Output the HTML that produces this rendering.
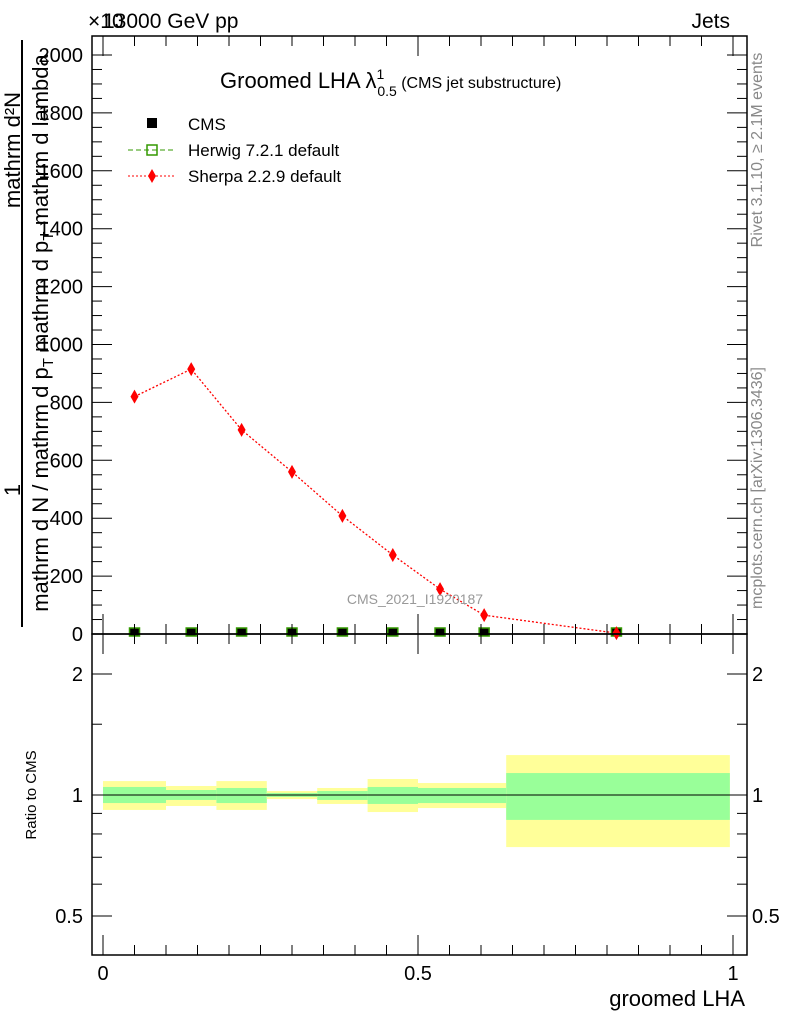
<!DOCTYPE html>
<html><head><meta charset="utf-8"><style>
body{margin:0;background:#fff;}
svg{display:block;font-family:"Liberation Sans",sans-serif;}
</style></head><body>
<svg id="c" width="786" height="1024" viewBox="0 0 786 1024" xmlns="http://www.w3.org/2000/svg">
<g id="bands"></g>
<g id="main"></g>
<g id="axes" stroke="#000" fill="none"></g>
<text x="103" y="28" font-size="21">13000 GeV pp</text>
<text x="88" y="28" font-size="21">×10</text>
<text x="730" y="28" font-size="21" text-anchor="end">Jets</text>
<text x="220" y="88" font-size="22">Groomed LHA λ<tspan font-size="14" dy="-9">1</tspan><tspan font-size="14" dx="-7" dy="17">0.5</tspan><tspan font-size="16" dy="-8"> (CMS jet substructure)</tspan></text>
<g font-size="17">
<rect x="147" y="118" width="10" height="10" fill="#000"/>
<text x="188" y="130">CMS</text>
<line x1="128" y1="150" x2="175" y2="150" stroke="#339900" stroke-dasharray="5,3"/>
<rect x="147" y="145" width="10" height="10" fill="none" stroke="#339900" stroke-width="1.5"/>
<text x="188" y="156">Herwig 7.2.1 default</text>
<line x1="128" y1="176" x2="175" y2="176" stroke="red" stroke-dasharray="2,2"/>
<path d="M152 169 L156 176 L152 183 L148 176Z" fill="red"/>
<text x="188" y="182">Sherpa 2.2.9 default</text>
</g>
<text x="415" y="604" font-size="14" fill="#999" text-anchor="middle">CMS_2021_I1920187</text>
<text transform="translate(762,150) rotate(-90)" font-size="16" fill="#888" text-anchor="middle">Rivet 3.1.10, ≥ 2.1M events</text>
<text transform="translate(762,488) rotate(-90)" font-size="16" fill="#888" text-anchor="middle">mcplots.cern.ch [arXiv:1306.3436]</text>
<g font-size="22">
<line x1="22" y1="40" x2="22" y2="627" stroke="#000" stroke-width="2"/>
<text transform="translate(20,490) rotate(-90)" text-anchor="middle">1</text>
<text transform="translate(20,150) rotate(-90)" text-anchor="middle">mathrm d²N</text>
<text transform="translate(48,333) rotate(-90)" text-anchor="middle">mathrm d N / mathrm d p<tspan font-size="15" dy="5">T</tspan><tspan dy="-5"> mathrm d p</tspan><tspan font-size="15" dy="5">T</tspan><tspan dy="-5"> mathrm d lambda</tspan></text>
</g>
<text transform="translate(36,795) rotate(-90)" font-size="15" text-anchor="middle">Ratio to CMS</text>
<text x="745" y="1006" font-size="22" text-anchor="end">groomed LHA</text>
</svg>
<script>
const binLo=[0,0.1,0.18,0.26,0.34,0.42,0.5,0.64];
const binHi=[0.1,0.18,0.26,0.34,0.42,0.5,0.64,0.995];
const xPts=[0.05,0.14,0.22,0.30,0.38,0.46,0.535,0.605,0.815];
const sherpa=[820,915,705,560,408,273,155,65,3];
const cms=[0,0,0,0,0,0,0,0,0];
const yelLo=[0.918,0.939,0.918,0.977,0.950,0.907,0.928,0.742];
const yelHi=[1.083,1.053,1.083,1.023,1.041,1.096,1.071,1.257];
const grnLo=[0.955,0.972,0.955,0.989,0.972,0.950,0.955,0.867];
const grnHi=[1.047,1.029,1.041,1.012,1.023,1.047,1.041,1.134];
const yTicks=[0,200,400,600,800,1000,1200,1400,1600,1800,2000];
const rTicks=[0.5,1,2];
const xTicks=[0,0.5,1];
const NS="http://www.w3.org/2000/svg";
const X=v=>103+v*630;
const Y=v=>634-v*0.2895;
const R=v=>795-121*Math.log2(v);
function mk(p,t,a){const e=document.createElementNS(NS,t);for(const k in a)e.setAttribute(k,a[k]);p.appendChild(e);return e;}
const bands=document.getElementById('bands'),main=document.getElementById('main'),ax=document.getElementById('axes');
for(let i=0;i<binLo.length;i++){
 const y=mk(bands,'rect',{x:X(binLo[i]),y:R(yelHi[i]),width:X(binHi[i])-X(binLo[i]),height:R(yelLo[i])-R(yelHi[i]),fill:'#ffff99'});
 
 
 const g=mk(bands,'rect',{x:X(binLo[i]),y:R(grnHi[i]),width:X(binHi[i])-X(binLo[i]),height:R(grnLo[i])-R(grnHi[i]),fill:'#99ff99'});
 
 
}
mk(bands,'line',{x1:92,x2:747,y1:R(1),y2:R(1),stroke:'#000'});
let d='';xPts.forEach((v,i)=>{d+=(i?'L':'M')+X(v)+' '+Y(sherpa[i]);});
const ln=mk(main,'path',{d:d,fill:'none',stroke:'red','stroke-dasharray':'2,2','stroke-width':1.3});


xPts.forEach((v,i)=>{
 const c=mk(main,'rect',{x:X(v)-5,y:Y(cms[i])-6,width:10,height:8,fill:'#000',stroke:'#339900','stroke-width':1.5});
 
 
 const x=X(v),y=Y(sherpa[i]);
 const m=mk(main,'path',{d:`M${x} ${y-7}L${x+4} ${y}L${x} ${y+7}L${x-4} ${y}Z`,fill:'red'});
 
 
});
mk(ax,'rect',{x:92,y:36,width:655,height:598,'stroke-width':1.5});
mk(ax,'rect',{x:92,y:634,width:655,height:321,'stroke-width':1.5});
yTicks.forEach(t=>{
 mk(ax,'line',{x1:92,x2:112,y1:Y(t),y2:Y(t)});mk(ax,'line',{x1:747,x2:727,y1:Y(t),y2:Y(t)});
 if(t<2000){const ym=Y(t+50),y2=Y(t+100),y3=Y(t+150);[ym,y2,y3].forEach(q=>{mk(ax,'line',{x1:92,x2:102,y1:q,y2:q});mk(ax,'line',{x1:747,x2:737,y1:q,y2:q});});}
 const tx=mk(document.getElementById('c'),'text',{x:83,y:Y(t)+7,'font-size':20,'text-anchor':'end'});tx.textContent=t;
 
 
});
for(let v=0;v<=1.0001;v+=0.05){const big=Math.abs(v*2-Math.round(v*2))<1e-6;const s=big?20:10;
 mk(ax,'line',{x1:X(v),x2:X(v),y1:634,y2:634-s});mk(ax,'line',{x1:X(v),x2:X(v),y1:36,y2:36+s});
 mk(ax,'line',{x1:X(v),x2:X(v),y1:955,y2:955-s});mk(ax,'line',{x1:X(v),x2:X(v),y1:634,y2:634+s});}
rTicks.forEach(t=>{
 mk(ax,'line',{x1:92,x2:112,y1:R(t),y2:R(t)});mk(ax,'line',{x1:747,x2:727,y1:R(t),y2:R(t)});
 ['L','R'].forEach(s=>{const tx=mk(document.getElementById('c'),'text',{x:s=='L'?83:752,y:R(t)+7,'font-size':20,'text-anchor':s=='L'?'end':'start'});tx.textContent=t;
 
 });
});
[0.6,0.7,0.8,0.9,1.5].forEach(t=>{mk(ax,'line',{x1:92,x2:102,y1:R(t),y2:R(t)});mk(ax,'line',{x1:747,x2:737,y1:R(t),y2:R(t)});});
xTicks.forEach(t=>{const tx=mk(document.getElementById('c'),'text',{x:X(t),y:980,'font-size':20,'text-anchor':'middle'});tx.textContent=t;
 
 });
</script>
</body></html>
